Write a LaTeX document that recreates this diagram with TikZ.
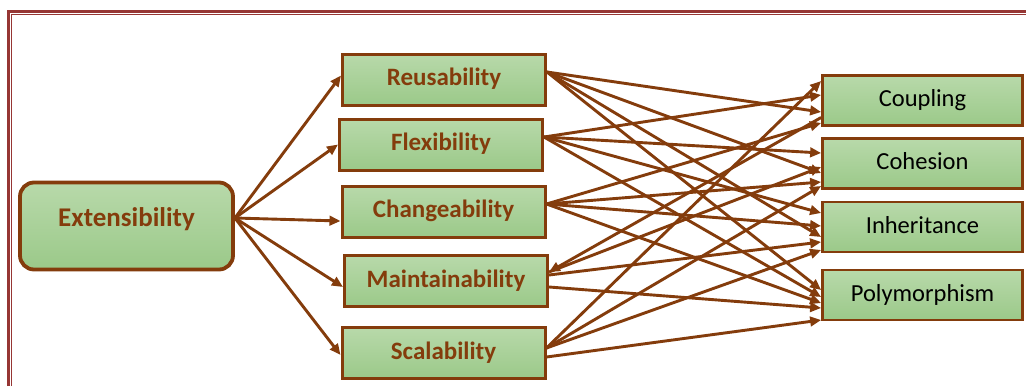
\documentclass[tikz,border=0pt]{standalone}
\usepackage{fontspec}
\setmainfont{Carlito}
\usetikzlibrary{arrows.meta}
\definecolor{brn}{RGB}{132,60,12}
\definecolor{frm}{RGB}{150,54,52}
\definecolor{gtop}{RGB}{184,217,170}
\definecolor{gbot}{RGB}{155,201,137}
\begin{document}
\begin{tikzpicture}[x=1pt,y=-1pt,
  box/.style={draw=brn,line width=3pt,top color=gtop,bottom color=gbot,inner sep=0pt,
    text height=17pt,text depth=5pt},
  mid/.style={box,font=\bfseries\fontsize{25}{29}\selectfont,text=brn,
    minimum width=203pt,minimum height=51pt},
  outbox/.style={box,line width=2.7pt,font=\fontsize{24.5}{29}\selectfont,text=black,
    minimum width=200pt,minimum height=50pt},
  extbox/.style={box,line width=3.8pt,rounded corners=14pt,font=\bfseries\fontsize{27}{31}\selectfont,
    text=brn,minimum width=213pt,minimum height=87pt,text height=19pt,text depth=19pt},
  arr/.style={draw=brn,line width=2.9pt,-{Triangle[length=11pt,width=9.5pt]}}
]
\useasboundingbox (0,0) rectangle (1026,386);
\fill[white] (0,0) rectangle (1026,386);
% page frame
\draw[frm,line width=3pt] (8.7,386) -- (8.7,11.8) -- (1026,11.8);
\draw[frm,line width=1.2pt] (11.6,386) -- (11.6,14.8) -- (1026,14.8);

% nodes
\node[extbox] (ext) at (126.5,226) {Extensibility};
\node[mid] (reus) at (444,79.5) {Reusability};
\node[mid] (flex) at (441,144.5) {Flexibility};
\node[mid] (chan) at (443.5,211.5) {Changeability};
\node[mid] (main) at (446,281) {Maintainability};
\node[mid] (scal) at (443.5,353) {Scalability};

\node[outbox] (coup) at (922.5,100.5) {Coupling};
\node[outbox] (cohe) at (922.5,163.5) {Cohesion};
\node[outbox] (inhe) at (922.5,227) {Inheritance};
\node[outbox] (poly) at (922.5,295) {Polymorphism};

% Extensibility to the middle column
\draw[arr] ([yshift=8pt]ext.east) -- ([yshift=4pt]reus.west);
\draw[arr] ([yshift=8pt]ext.east) -- (flex.west);
\draw[arr] ([yshift=8pt]ext.east) -- ([yshift=-9.5pt]chan.west);
\draw[arr] ([yshift=8pt]ext.east) -- ([yshift=-6pt]main.west);
\draw[arr] ([yshift=8pt]ext.east) -- ([yshift=-2pt]scal.west);

% Reusability
\draw[arr] ([yshift=7.5pt]reus.east) -- ([yshift=-11.5pt]coup.west);
\draw[arr] ([yshift=7.5pt]reus.east) -- ([yshift=-9.5pt]cohe.west);
\draw[arr] ([yshift=7.5pt]reus.east) -- ([yshift=-10pt]inhe.west);
\draw[arr] ([yshift=7.5pt]reus.east) -- ([yshift=5pt]poly.west);
% Flexibility
\draw[arr] ([yshift=7.5pt]flex.east) -- ([yshift=5.5pt]coup.west);
\draw[arr] ([yshift=7.5pt]flex.east) -- ([yshift=10.5pt]cohe.west);
\draw[arr] ([yshift=7.5pt]flex.east) -- ([yshift=14pt]inhe.west);
\draw[arr] ([yshift=7.5pt]flex.east) -- ([yshift=-2pt]poly.west);
% Changeability
\draw[arr] ([yshift=7.5pt]chan.east) -- ([yshift=-22.5pt]coup.west);
\draw[arr] ([yshift=7.5pt]chan.east) -- ([yshift=-18.5pt]cohe.west);
\draw[arr] ([yshift=7.5pt]chan.east) -- ([yshift=1pt]inhe.west);
\draw[arr] ([yshift=7.5pt]chan.east) -- ([yshift=-8pt]poly.west);
% Maintainability
\draw[arr] ([yshift=-17pt]coup.west) -- ([yshift=9pt]main.east);
\draw[arr] ([yshift=9pt]main.east) -- ([yshift=-3.5pt]cohe.west);
\draw[arr] ([yshift=6pt]main.east) -- ([yshift=-15pt]inhe.west);
\draw[arr] ([yshift=-6pt]main.east) -- ([yshift=-13pt]poly.west);
% Scalability
\draw[arr] ([yshift=5pt]scal.east) -- ([yshift=19.5pt]coup.west);
\draw[arr] ([yshift=5pt]scal.east) -- ([yshift=-22.5pt]cohe.west);
\draw[arr] ([yshift=5pt]scal.east) -- ([yshift=-23pt]inhe.west);
\draw[arr] ([yshift=-4pt]scal.east) -- ([yshift=-25pt]poly.west);
\end{tikzpicture}
\end{document}
